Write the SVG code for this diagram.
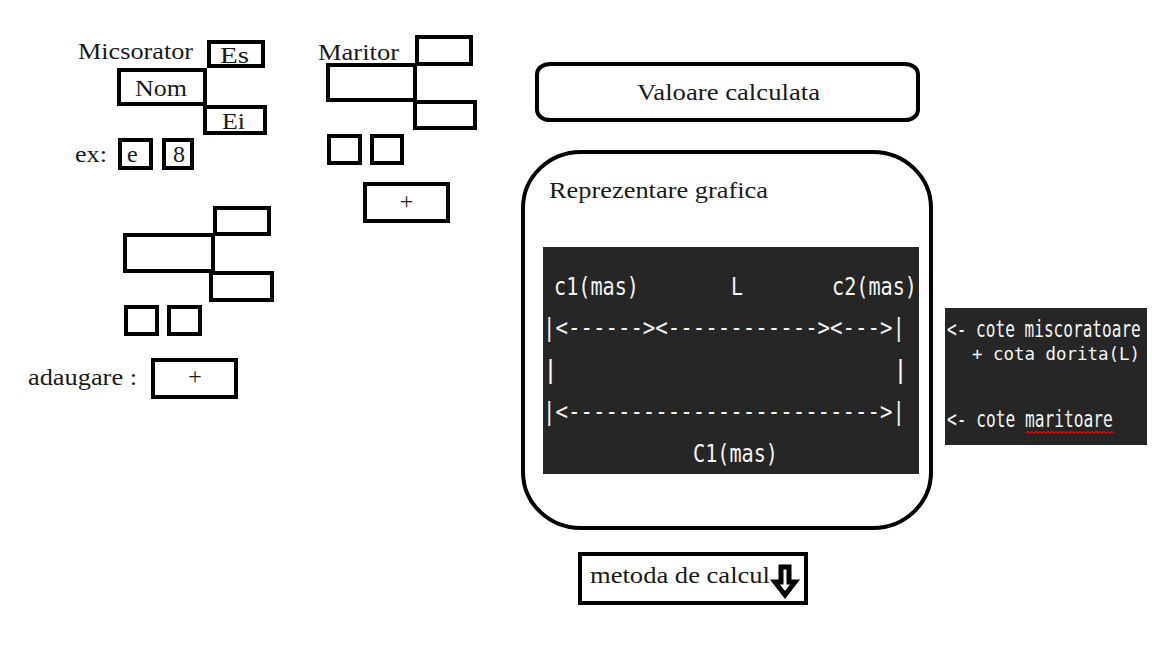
<svg xmlns="http://www.w3.org/2000/svg" width="1152" height="648" viewBox="0 0 1152 648">
<style>
.b{fill:#fff;stroke:#000;stroke-width:4}
.s{font-family:"Liberation Serif","Times New Roman",serif;font-size:24px;fill:#1a1a1a}
.m{font-family:"DejaVu Sans Mono","Liberation Mono",monospace;fill:#f4f4f4}
.dk{fill:#262626}
</style>
<rect width="1152" height="648" fill="#fff"/>
<g id="micsorator">
  <text class="s" x="78" y="59" textLength="115" lengthAdjust="spacingAndGlyphs">Micsorator</text>
  <rect class="b" x="209" y="42" width="54" height="24"/>
  <text class="s" x="220" y="63" font-size="22" textLength="29" lengthAdjust="spacingAndGlyphs">Es</text>
  <rect class="b" x="119" y="70" width="86" height="34"/>
  <text class="s" x="135" y="96" textLength="52" lengthAdjust="spacingAndGlyphs">Nom</text>
  <rect class="b" x="205" y="107" width="60" height="26"/>
  <text class="s" x="222" y="129" font-size="22" textLength="23" lengthAdjust="spacingAndGlyphs">Ei</text>
  <text class="s" x="75" y="162" textLength="32" lengthAdjust="spacingAndGlyphs">ex:</text>
  <rect class="b" x="120" y="140" width="31" height="28"/>
  <text class="s" x="127" y="162">e</text>
  <rect class="b" x="164" y="140" width="28" height="28"/>
  <text class="s" x="173" y="162">8</text>
</g>
<g id="maritor">
  <text class="s" x="318" y="60" textLength="81" lengthAdjust="spacingAndGlyphs">Maritor</text>
  <rect class="b" x="417" y="37" width="54" height="27"/>
  <rect class="b" x="328" y="65" width="87" height="35"/>
  <rect class="b" x="415" y="102" width="60" height="26"/>
  <rect class="b" x="329" y="136" width="31" height="27"/>
  <rect class="b" x="372" y="136" width="30" height="27"/>
  <rect class="b" x="365" y="184" width="83" height="37"/>
  <text class="s" x="406.5" y="209" text-anchor="middle">+</text>
</g>
<g id="adaugare">
  <rect class="b" x="215" y="208" width="54" height="26"/>
  <rect class="b" x="125" y="235" width="88" height="36"/>
  <rect class="b" x="211" y="273" width="61" height="27"/>
  <rect class="b" x="126" y="307" width="31" height="27"/>
  <rect class="b" x="169" y="307" width="31" height="27"/>
  <text class="s" x="28" y="385" textLength="109" lengthAdjust="spacingAndGlyphs">adaugare :</text>
  <rect class="b" x="153" y="360" width="83" height="37"/>
  <text class="s" x="195" y="384" text-anchor="middle">+</text>
</g>
<g id="valoare">
  <rect class="b" x="537" y="64" width="381" height="56" rx="13" ry="10"/>
  <text class="s" x="637" y="100" textLength="183" lengthAdjust="spacingAndGlyphs">Valoare calculata</text>
</g>
<g id="reprezentare">
  <rect class="b" x="523" y="152" width="408" height="376" rx="58" ry="56"/>
  <text class="s" x="549" y="198" textLength="219" lengthAdjust="spacingAndGlyphs">Reprezentare grafica</text>
  <rect class="dk" x="543" y="247" width="376" height="227"/>
  <g class="m" font-size="25">
    <text x="554" y="295" textLength="85" lengthAdjust="spacingAndGlyphs">c1(mas)</text>
    <text x="731" y="295" textLength="12" lengthAdjust="spacingAndGlyphs">L</text>
    <text x="832" y="295" textLength="85" lengthAdjust="spacingAndGlyphs">c2(mas)</text>
    <text x="543" y="336" textLength="362" lengthAdjust="spacingAndGlyphs">|&lt;------&gt;&lt;------------&gt;&lt;---&gt;|</text>
    <text x="543" y="378">|</text>
    <text x="893" y="378">|</text>
    <text x="543" y="420" textLength="362" lengthAdjust="spacingAndGlyphs">|&lt;-------------------------&gt;|</text>
    <text x="693" y="462" textLength="85" lengthAdjust="spacingAndGlyphs">C1(mas)</text>
  </g>
</g>
<g id="legenda">
  <rect class="dk" x="945" y="308" width="202" height="137"/>
  <text class="m" font-size="23" transform="translate(947,337) scale(0.70,1)">&lt;- cote miscoratoare</text>
  <text class="m" font-size="18" transform="translate(972,360) scale(0.97,1)">+ cota dorita(L)</text>
  <text class="m" font-size="23" transform="translate(947,427) scale(0.705,1)">&lt;- cote maritoare</text>
  <path d="M1026,433 l2,-1.5 l2,1.5 l2,-1.5 l2,1.5 l2,-1.5 l2,1.5 l2,-1.5 l2,1.5 l2,-1.5 l2,1.5 l2,-1.5 l2,1.5 l2,-1.5 l2,1.5 l2,-1.5 l2,1.5 l2,-1.5 l2,1.5 l2,-1.5 l2,1.5 l2,-1.5 l2,1.5 l2,-1.5 l2,1.5 l2,-1.5 l2,1.5 l2,-1.5 l2,1.5 l2,-1.5 l2,1.5 l2,-1.5 l2,1.5 l2,-1.5 l2,1.5 l2,-1.5 l2,1.5 l2,-1.5 l2,1.5 l2,-1.5 l2,1.5 l2,-1.5 l2,1.5 l2,-1.5 l2,1.5" fill="none" stroke="#d01010" stroke-width="1.2"/>
</g>
<g id="metoda">
  <rect class="b" x="580" y="554" width="226" height="49"/>
  <text class="s" x="590" y="583" textLength="180" lengthAdjust="spacingAndGlyphs">metoda de calcul</text>
  <path d="M781,567 H789 V582 H795 L785,595 L775,582 H781 Z" fill="#fff" stroke="#000" stroke-width="5" stroke-linejoin="miter"/>
</g>
</svg>
